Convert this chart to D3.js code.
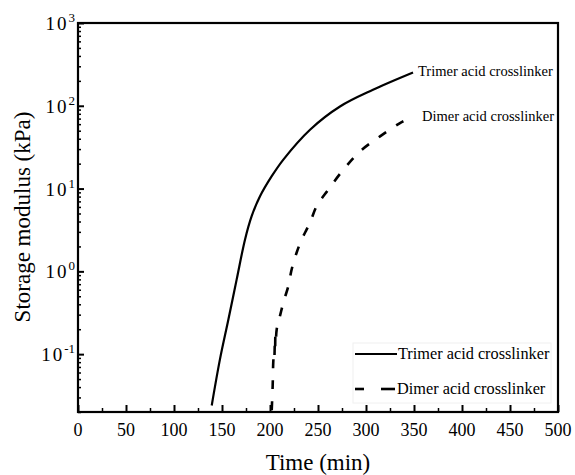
<!DOCTYPE html>
<html>
<head>
<meta charset="utf-8">
<script src="https://cdn.jsdelivr.net/npm/d3@7"></script>
<style>
  body { margin: 0; background: #fff; }
</style>
</head>
<body>
<div id="chart"></div>
<script>
// data: time (min), storage modulus (kPa)
var trimerTime = [139.3, 147.9, 156.6, 165.3, 174, 180.9, 189.6, 201.8, 213.9, 241.7, 272.9, 307.3, 349];
var trimerG = [0.024, 0.087, 0.26, 0.80, 2.43, 4.64, 8.07, 14.1, 22.4, 51.4, 98, 156, 252];

var dimerTime = [201.8, 202.8, 203.4, 204, 204.5, 205, 205.3, 205.6, 206, 207, 210.4, 213.9, 219.1, 222.6, 227.8, 233, 238.2, 241.7, 248.6, 260.8, 276.4, 293.8, 314.6, 335.4, 339];
var dimerG = [0.021, 0.042, 0.08, 0.10, 0.09, 0.13, 0.11, 0.165, 0.14, 0.2, 0.29, 0.42, 0.665, 1.06, 1.69, 2.43, 3.21, 3.86, 6.13, 9.73, 16.9, 28.2, 42.7, 61.9, 65];

var xTicks = [0, 50, 100, 150, 200, 250, 300, 350, 400, 450, 500];
var yTicks = [0.1, 1, 10, 100, 1000];
var yExps = [-1, 0, 1, 2, 3];
var seriesNames = ["Trimer acid crosslinker", "Dimer acid crosslinker"];

var W = 575, H = 475;
var margin = { top: 23, right: 17, bottom: 63, left: 78 };
var serif = "'Liberation Serif', 'Times New Roman', serif";

var svg = d3.select("#chart").append("svg")
    .attr("width", W)
    .attr("height", H)
    .attr("font-family", serif);

var x = d3.scaleLinear().domain([0, 500]).range([margin.left, W - margin.right]);
var y = d3.scaleLog().domain([0.02, 1000]).range([H - margin.bottom, margin.top]);

svg.append("clipPath").attr("id", "clip")
  .append("rect")
    .attr("x", margin.left).attr("y", margin.top)
    .attr("width", x(500) - x(0)).attr("height", y(0.02) - y(1000));

// minor y ticks (2..9 per decade)
var yMinor = [];
[0.01, 0.1, 1, 10, 100].forEach(function(d) {
    for (var k = 2; k <= 9; k++) {
        var v = d * k;
        if (v >= 0.02 && v <= 1000) yMinor.push(v);
    }
});

svg.append("g")
    .attr("transform", "translate(" + margin.left + ",0)")
    .call(d3.axisLeft(y).tickValues(yMinor).tickSize(-3).tickFormat(""))
    .call(g => g.select(".domain").remove())
    .selectAll("line").attr("stroke-width", 1.5);

svg.append("g")
    .attr("transform", "translate(" + margin.left + ",0)")
    .call(d3.axisLeft(y).tickValues(yTicks).tickSize(-6).tickFormat(""))
    .call(g => g.select(".domain").remove())
    .selectAll("line").attr("stroke-width", 2);

// x ticks
var xMinor = d3.range(25, 500, 50);
svg.append("g")
    .attr("transform", "translate(0," + (H - margin.bottom) + ")")
    .call(d3.axisBottom(x).tickValues(xMinor).tickSize(-4).tickFormat(""))
    .call(g => g.select(".domain").remove())
    .selectAll("line").attr("stroke-width", 1.5);

svg.append("g")
    .attr("transform", "translate(0," + (H - margin.bottom) + ")")
    .call(d3.axisBottom(x).tickValues(xTicks).tickSize(-7).tickFormat(""))
    .call(g => g.select(".domain").remove())
    .selectAll("line").attr("stroke-width", 2);

// x tick labels
svg.selectAll(".xLabel")
    .data(xTicks)
    .enter().append("text")
    .attr("class", "xLabel")
    .attr("x", d => x(d))
    .attr("y", H - margin.bottom + 24)
    .attr("text-anchor", "middle")
    .attr("font-size", "18px")
    .text(d => d);

// y tick labels, 10 with superscript exponent
var yl = svg.selectAll(".yLabel")
    .data(yTicks)
    .enter().append("text")
    .attr("class", "yLabel")
    .attr("x", margin.left - 3)
    .attr("y", d => y(d) + 7)
    .attr("text-anchor", "end")
    .attr("font-size", "19px");
yl.append("tspan").attr("letter-spacing", "2px").text("10");
yl.append("tspan")
    .attr("font-size", "13px")
    .attr("dy", -8)
    .text((d, i) => yExps[i]);

// frame
svg.append("rect")
    .attr("x", x(0)).attr("y", y(1000))
    .attr("width", x(500) - x(0)).attr("height", y(0.02) - y(1000))
    .attr("fill", "none")
    .attr("stroke", "#000")
    .attr("stroke-width", 2.2);

// curves
var line = d3.line()
    .x(d => x(d[0]))
    .y(d => y(d[1]))
    .curve(d3.curveCatmullRom.alpha(0.5));

var plot = svg.append("g").attr("clip-path", "url(#clip)");

plot.append("path")
    .datum(trimerTime.map((t, i) => [t, trimerG[i]]))
    .attr("d", line)
    .attr("fill", "none")
    .attr("stroke", "#000")
    .attr("stroke-width", 2.2);

plot.append("path")
    .datum(dimerTime.map((t, i) => [t, dimerG[i]]))
    .attr("d", line)
    .attr("fill", "none")
    .attr("stroke", "#000")
    .attr("stroke-width", 2.6)
    .attr("stroke-dasharray", "9,12");

// curve annotations
svg.append("text")
    .attr("x", 418).attr("y", 76)
    .attr("font-size", "14.5px")
    .text(seriesNames[0]);
svg.append("text")
    .attr("x", 422).attr("y", 121)
    .attr("font-size", "14.5px")
    .text(seriesNames[1]);

// legend
var lg = svg.append("g");
lg.append("rect")
    .attr("x", 353).attr("y", 343)
    .attr("width", 198).attr("height", 60)
    .attr("fill", "#fff")
    .attr("stroke", "#f0f0f0");
lg.append("line")
    .attr("x1", 355).attr("x2", 397)
    .attr("y1", 354).attr("y2", 354)
    .attr("stroke", "#000").attr("stroke-width", 2.2);
[[355, 364], [381, 395]].forEach(function(s) {
    lg.append("line")
        .attr("x1", s[0]).attr("x2", s[1])
        .attr("y1", 389).attr("y2", 389)
        .attr("stroke", "#000").attr("stroke-width", 2.6);
});
lg.append("text")
    .attr("x", 398).attr("y", 359)
    .attr("font-size", "16.3px")
    .text(seriesNames[0]);
lg.append("text")
    .attr("x", 397).attr("y", 394)
    .attr("font-size", "16.3px")
    .text(seriesNames[1]);

// axis titles
svg.append("text")
    .attr("x", (x(0) + x(500)) / 2)
    .attr("y", H - 5)
    .attr("text-anchor", "middle")
    .attr("font-size", "23px")
    .text("Time (min)");

svg.append("text")
    .attr("transform", "rotate(-90)")
    .attr("x", -217)
    .attr("y", 30)
    .attr("text-anchor", "middle")
    .attr("font-size", "23px")
    .text("Storage modulus (kPa)");
</script>
</body>
</html>
